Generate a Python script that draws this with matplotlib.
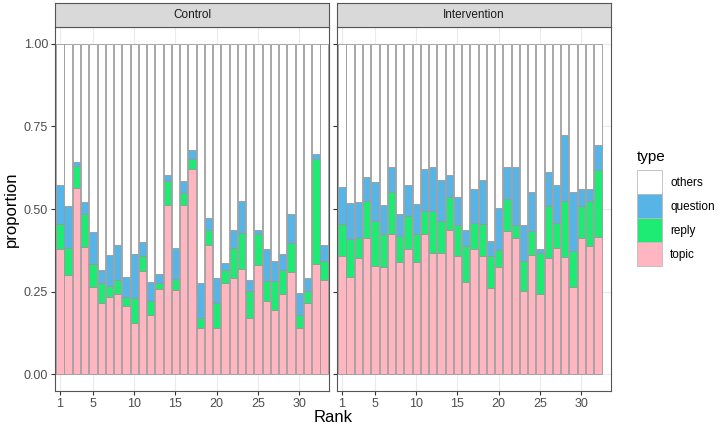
import matplotlib
matplotlib.use("Agg")
import matplotlib.pyplot as plt
from matplotlib.patches import Patch
import numpy as np

plt.rcParams['font.family'] = ['Liberation Sans', 'DejaVu Sans']

# cumulative tops: topic, topic+reply, topic+reply+question
ctrl_topic = [0.378, 0.302, 0.564, 0.386, 0.264, 0.217, 0.235, 0.242, 0.206, 0.154, 0.314,
              0.179, 0.257, 0.512, 0.255, 0.512, 0.621, 0.141, 0.390, 0.141, 0.275, 0.292,
              0.319, 0.171, 0.332, 0.222, 0.196, 0.242, 0.309, 0.139, 0.217, 0.335, 0.285]
ctrl_reply_top = [0.456, 0.383, 0.629, 0.486, 0.335, 0.277, 0.267, 0.285, 0.235, 0.232, 0.357,
                  0.222, 0.277, 0.584, 0.289, 0.549, 0.652, 0.171, 0.438, 0.217, 0.317, 0.383,
                  0.428, 0.252, 0.423, 0.282, 0.282, 0.317, 0.398, 0.181, 0.252, 0.652, 0.342]
ctrl_question_top = [0.572, 0.509, 0.641, 0.522, 0.430, 0.315, 0.360, 0.390, 0.294, 0.363, 0.400,
                     0.279, 0.305, 0.604, 0.381, 0.584, 0.677, 0.275, 0.473, 0.292, 0.337, 0.438,
                     0.524, 0.285, 0.438, 0.378, 0.342, 0.363, 0.486, 0.247, 0.292, 0.665, 0.390]

int_topic = [0.358, 0.295, 0.352, 0.413, 0.329, 0.325, 0.423, 0.340, 0.380, 0.339, 0.423,
             0.366, 0.368, 0.436, 0.358, 0.280, 0.380, 0.358, 0.260, 0.325, 0.433, 0.413,
             0.252, 0.360, 0.242, 0.352, 0.383, 0.354, 0.264, 0.413, 0.388, 0.416]
int_reply_top = [0.455, 0.408, 0.413, 0.524, 0.465, 0.423, 0.552, 0.418, 0.480, 0.423, 0.493,
                 0.493, 0.463, 0.537, 0.453, 0.388, 0.458, 0.456, 0.358, 0.376, 0.529, 0.453,
                 0.342, 0.433, 0.368, 0.509, 0.458, 0.524, 0.373, 0.509, 0.524, 0.617]
int_question_top = [0.567, 0.519, 0.521, 0.597, 0.581, 0.511, 0.627, 0.486, 0.574, 0.516, 0.622,
                    0.627, 0.587, 0.602, 0.537, 0.436, 0.559, 0.589, 0.403, 0.504, 0.627, 0.626,
                    0.453, 0.552, 0.378, 0.612, 0.574, 0.725, 0.551, 0.561, 0.559, 0.693]

groups = ["Control", "Intervention"]
types = ["topic", "reply", "question", "others"]
colors = {"topic": "#FFB6C1", "reply": "#1EEB74", "question": "#56B4E6", "others": "#FFFFFF"}
xticks = [1, 5, 10, 15, 20, 25, 30]
yticks = [0.0, 0.25, 0.5, 0.75, 1.0]

def segments(topic, reply_top, question_top):
    t = np.array(topic)
    r = np.array(reply_top) - t
    q = np.array(question_top) - np.array(reply_top)
    o = 1.0 - np.array(question_top)
    return {"topic": t, "reply": r, "question": q, "others": o}

data = {
    "Control": segments(ctrl_topic, ctrl_reply_top, ctrl_question_top),
    "Intervention": segments(int_topic, int_reply_top, int_question_top),
}

W, H = 720, 429
fig = plt.figure(figsize=(W / 100, H / 100), dpi=100)

def fx(px):
    return px / W

def fy(py):
    return 1 - py / H

panels = [(55, 329), (337, 611)]
ptop, pbot = 27, 391
strip_top = 3
edge = "#999999"
tick_col = "#4D4D4D"
border_col = "#555555"

for gi, (g, (x0, x1)) in enumerate(zip(groups, panels)):
    ax = fig.add_axes([fx(x0), fy(pbot), fx(x1 - x0), (pbot - ptop) / H])
    segs = data[g]
    n = len(segs["topic"])
    ranks = np.arange(1, n + 1)
    bottom = np.zeros(n)
    for t in types:
        ax.bar(ranks, segs[t], bottom=bottom, width=0.9, color=colors[t],
               edgecolor=edge, linewidth=0.6, zorder=2)
        bottom = bottom + segs[t]
    ax.set_xlim(0.4, 33.6)
    ax.set_ylim(-0.05, 1.05)
    ax.set_xticks(xticks)
    ax.set_xticklabels([str(v) for v in xticks])
    ax.set_yticks(yticks)
    if gi == 0:
        ax.set_yticklabels(["0.00", "0.25", "0.50", "0.75", "1.00"])
    else:
        ax.set_yticklabels([])
        ax.tick_params(axis="y", length=0)
    ax.tick_params(axis="both", colors="#333333", labelcolor=tick_col, labelsize=9,
                   length=3, width=0.8, pad=2)
    ax.grid(True, color="#EBEBEB", linewidth=0.8, zorder=0)
    ax.set_axisbelow(True)
    for s in ax.spines.values():
        s.set_color(border_col)
        s.set_linewidth(0.8)
    # facet strip
    sax = fig.add_axes([fx(x0), fy(ptop), fx(x1 - x0), (ptop - strip_top) / H])
    sax.set_facecolor("#D9D9D9")
    sax.set_xticks([])
    sax.set_yticks([])
    for s in sax.spines.values():
        s.set_color(border_col)
        s.set_linewidth(0.8)
    sax.text(0.5, 0.5, g, ha="center", va="center", fontsize=8.5, color="#1A1A1A",
             transform=sax.transAxes)

fig.text(fx(11), fy(209), "proportion", rotation=90, ha="center", va="center", fontsize=12)
fig.text(fx(333), fy(418), "Rank", ha="center", va="center", fontsize=12)

handles = [Patch(facecolor=colors[t], edgecolor="#BBBBBB", linewidth=0.6) for t in types[::-1]]
leg = fig.legend(handles, types[::-1], loc="upper left", bbox_to_anchor=(fx(633), fy(146)),
                 frameon=False, title="type", fontsize=8.5, title_fontsize=11,
                 handlelength=2.15, handleheight=2.75, labelspacing=0.0, handletextpad=0.7,
                 borderaxespad=0, borderpad=0.3, alignment="left")
leg._legend_box.sep = 5

fig.savefig("out.png", dpi=100)
